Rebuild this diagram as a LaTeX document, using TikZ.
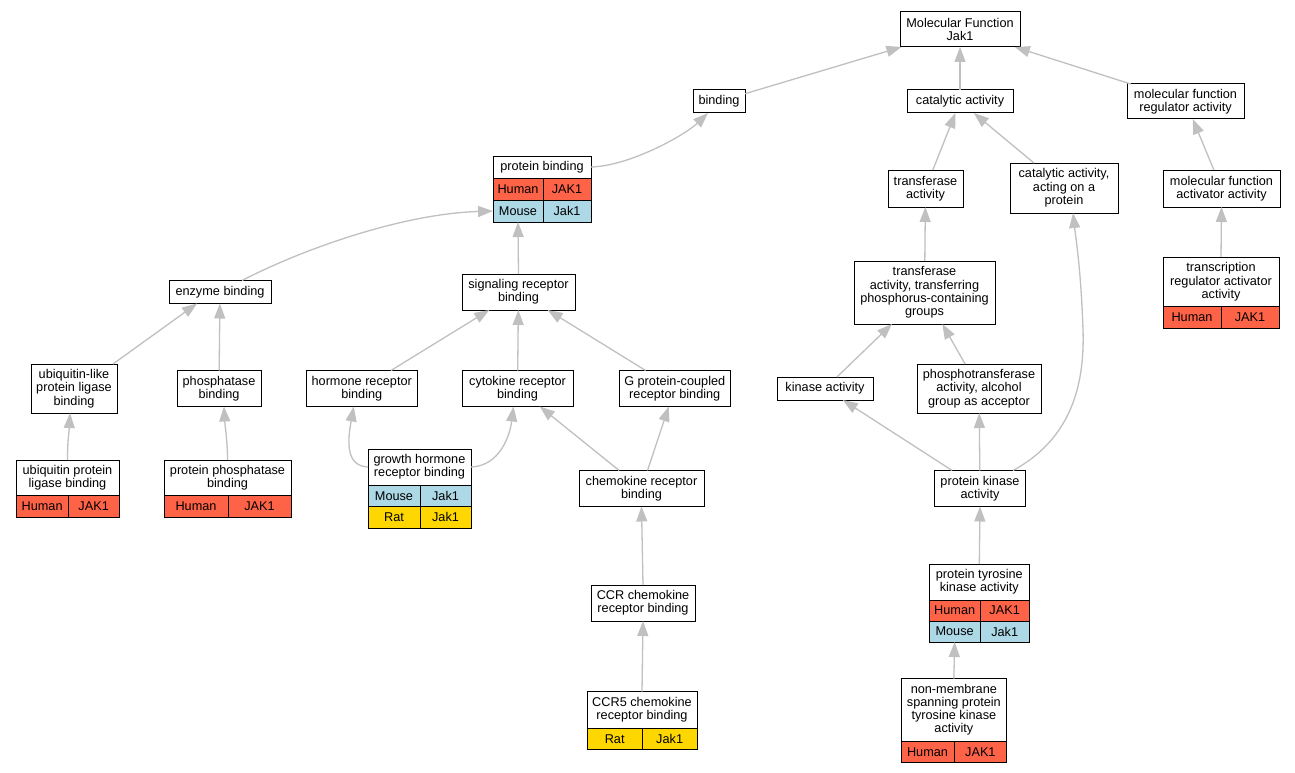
\documentclass[tikz,border=0pt]{standalone}
\usepackage{fontspec}
\setmainfont{Liberation Sans}
\usetikzlibrary{arrows.meta,fit}
\definecolor{tomatoC}{HTML}{FF6347}
\definecolor{lblueC}{HTML}{ADD8E6}
\definecolor{goldC}{HTML}{FFD700}
\definecolor{edgeC}{HTML}{C0C0C0}
\newcommand\nodefont{\fontsize{12.7}{13.3}\selectfont}
\tikzset{
  box/.style={draw=black, line width=1pt, fill=white, inner sep=0pt, outer sep=0pt, align=center, font=\nodefont},
  hum/.style={box, fill=tomatoC},
  mou/.style={box, fill=lblueC},
  rat/.style={box, fill=goldC},
  whole/.style={inner sep=0pt, outer sep=0pt},
  edge/.style={draw=edgeC, line width=1.3pt, -{Triangle[length=15pt,width=11pt]}},
}
\begin{document}
\begin{tikzpicture}[x=1pt,y=-1pt]
\fill[white] (0,0) rectangle (1295,773);
\useasboundingbox (0,0) rectangle (1295,773);

% plain nodes
\node[box, minimum width=120, minimum height=35] (mf) at (960,29.5) {Molecular Function\\Jak1};
\node[box, minimum width=52, minimum height=23] (binding) at (719,101.5) {binding};
\node[box, minimum width=106, minimum height=23] (cat) at (960,101.5) {catalytic activity};
\node[box, minimum width=117, minimum height=35] (mfr) at (1185.5,101.5) {molecular function\\regulator activity};
\node[box, minimum width=75, minimum height=37] (tr) at (925.5,188.5) {transferase\\activity};
\node[box, minimum width=108, minimum height=50] (caa) at (1064,188) {catalytic activity,\\acting on a\\protein};
\node[box, minimum width=117, minimum height=37] (act) at (1221.5,188.5) {molecular function\\activator activity};
\node[box, minimum width=102, minimum height=23] (enz) at (220,292) {enzyme binding};
\node[box, minimum width=113, minimum height=36] (sig) at (518.5,292) {signaling receptor\\binding};
\node[box, minimum width=141, minimum height=63] (tp) at (924.5,292.5) {transferase\\activity, transferring\\phosphorus-containing\\groups};
\node[box, minimum width=86, minimum height=49] (ul) at (74,388.5) {ubiquitin-like\\protein ligase\\binding};
\node[box, minimum width=84, minimum height=36] (ph) at (219,388.5) {phosphatase\\binding};
\node[box, minimum width=111.5, minimum height=36] (hr) at (361.75,388.5) {hormone receptor\\binding};
\node[box, minimum width=111, minimum height=36] (cyt) at (517.5,388.5) {cytokine receptor\\binding};
\node[box, minimum width=111.5, minimum height=36] (gp) at (674.75,388.5) {G protein-coupled\\receptor binding};
\node[box, minimum width=96, minimum height=23] (kin) at (825,388.5) {kinase activity};
\node[box, minimum width=124, minimum height=49] (pt) at (979,388.5) {phosphotransferase\\activity, alcohol\\group as acceptor};
\node[box, minimum width=125, minimum height=36] (chem) at (641.5,488.5) {chemokine receptor\\binding};
\node[box, minimum width=91, minimum height=36] (pk) at (980,488.5) {protein kinase\\activity};
\node[box, minimum width=104, minimum height=36] (ccr) at (643,603) {CCR chemokine\\receptor binding};

% protein binding
\node[box, minimum width=98, minimum height=22] (pbt) at (542,167) {protein binding};
\node[hum, minimum width=50, minimum height=22] (pbh1) at (518,189) {Human};
\node[hum, minimum width=48, minimum height=22] (pbh2) at (567,189) {JAK1};
\node[mou, minimum width=50, minimum height=22] (pbm1) at (518,211) {Mouse};
\node[mou, minimum width=48, minimum height=22] (pbm2) at (567,211) {Jak1};
\node[whole, fit=(pbt)(pbm1)(pbm2)] (pb) {};

% transcription regulator activator activity
\node[box, minimum width=116, minimum height=49.5] (tct) at (1221,281.75) {transcription\\regulator activator\\activity};
\node[hum, minimum width=58, minimum height=21.5] (tch1) at (1192,317.25) {Human};
\node[hum, minimum width=58, minimum height=21.5] (tch2) at (1250,317.25) {JAK1};
\node[whole, fit=(tct)(tch1)(tch2)] (tc) {};

% ubiquitin protein ligase binding
\node[box, minimum width=103, minimum height=35.5] (uplt) at (67.5,477.75) {ubiquitin protein\\ligase binding};
\node[hum, minimum width=52.3, minimum height=21.5] (uplh1) at (42.15,506.25) {Human};
\node[hum, minimum width=50.7, minimum height=21.5] (uplh2) at (93.65,506.25) {JAK1};
\node[whole, fit=(uplt)(uplh1)(uplh2)] (upl) {};

% protein phosphatase binding
\node[box, minimum width=127, minimum height=35.5] (ppbt) at (227.5,477.75) {protein phosphatase\\binding};
\node[hum, minimum width=64, minimum height=21.5] (ppbh1) at (196,506.25) {Human};
\node[hum, minimum width=63, minimum height=21.5] (ppbh2) at (259.5,506.25) {JAK1};
\node[whole, fit=(ppbt)(ppbh1)(ppbh2)] (ppb) {};

% growth hormone receptor binding
\node[box, minimum width=103, minimum height=36] (ght) at (419.5,467) {growth hormone\\receptor binding};
\node[mou, minimum width=52, minimum height=21.5] (ghm1) at (394,495.75) {Mouse};
\node[mou, minimum width=51, minimum height=21.5] (ghm2) at (445.5,495.75) {Jak1};
\node[rat, minimum width=52, minimum height=21.5] (ghr1) at (394,517.25) {Rat};
\node[rat, minimum width=51, minimum height=21.5] (ghr2) at (445.5,517.25) {Jak1};
\node[whole, fit=(ght)(ghr1)(ghr2)] (gh) {};

% protein tyrosine kinase activity
\node[box, minimum width=100, minimum height=36] (ptkt) at (979.3,582) {protein tyrosine\\kinase activity};
\node[hum, minimum width=50.7, minimum height=21] (ptkh1) at (954.65,610.5) {Human};
\node[hum, minimum width=49.3, minimum height=21] (ptkh2) at (1004.65,610.5) {JAK1};
\node[mou, minimum width=50.7, minimum height=21] (ptkm1) at (954.65,631.5) {Mouse};
\node[mou, minimum width=49.3, minimum height=21] (ptkm2) at (1004.65,631.5) {Jak1};
\node[whole, fit=(ptkt)(ptkm1)(ptkm2)] (ptk) {};

% CCR5 chemokine receptor binding
\node[box, minimum width=110, minimum height=36.5] (ccr5t) at (642,709.75) {CCR5 chemokine\\receptor binding};
\node[rat, minimum width=55.3, minimum height=21.5] (ccr5r1) at (614.65,738.75) {Rat};
\node[rat, minimum width=54.7, minimum height=21.5] (ccr5r2) at (669.65,738.75) {Jak1};
\node[whole, fit=(ccr5t)(ccr5r1)(ccr5r2)] (ccr5) {};

% non-membrane spanning protein tyrosine kinase activity
\node[box, minimum width=105.7, minimum height=62.5] (nmt) at (953.85,709.75) {non-membrane\\spanning protein\\tyrosine kinase\\activity};
\node[hum, minimum width=53, minimum height=21.5] (nmh1) at (927.5,751.75) {Human};
\node[hum, minimum width=52.7, minimum height=21.5] (nmh2) at (980.35,751.75) {JAK1};
\node[whole, fit=(nmt)(nmh1)(nmh2)] (nm) {};

\coordinate (pkbend) at (1083,330);

% edges
\draw[edge] (binding) -- (mf);
\draw[edge] (cat) -- (mf);
\draw[edge] (mfr) -- (mf);
\draw[edge] (pbt.east) .. controls +(39,-1) and +(-23,22) .. ([xshift=-11pt]binding.south);
\draw[edge] (tr) -- (cat);
\draw[edge] (caa) -- (cat);
\draw[edge] (act) -- (mfr);
\draw[edge] ([xshift=22pt]enz.north) .. controls +(58,-30) and +(-93,3) .. (pbm1.west);
\draw[edge] (sig.north) -- (pbm1.south);
\draw[edge] (tp) -- (tr);
\draw[edge] (tc.north) -- (act.south);
\draw[edge] ([xshift=39pt]ul.north) -- ([xshift=-23pt]enz.south);
\draw[edge] (ph) -- (enz);
\draw[edge] (hr) -- (sig);
\draw[edge] (cyt) -- (sig);
\draw[edge] (gp) -- (sig);
\draw[edge] (kin) -- (tp);
\draw[edge] (pt) -- (tp);
\draw[edge] (upl.north) .. controls +(0,-20) and +(-1,20) .. ([xshift=-4pt]ul.south);
\draw[edge] (ppb.north) .. controls +(0,-20) and +(1,20) .. ([xshift=5pt]ph.south);
\draw[edge] (ght.west) .. controls +(-23,-1) and +(-6,33.5) .. ([xshift=-8pt]hr.south);
\draw[edge] (ght.east) .. controls +(29,-1) and +(-3.5,28.5) .. ([xshift=-4pt]cyt.south);
\draw[edge] (chem) -- (cyt);
\draw[edge] (chem) -- (gp);
\draw[edge] (pk) -- (kin);
\draw[edge] (pk) -- (pt);
\draw[edge] ([xshift=33pt]pk.north) .. controls +(55,-30) and +(2,60) .. (pkbend) .. controls +(-2,-60) and +(3,27) .. ([xshift=9pt]caa.south);
\draw[edge] (ccr.north) -- (chem.south);
\draw[edge] (ptk.north) -- (pk.south);
\draw[edge] (ccr5.north) -- (ccr.south);
\draw[edge] (nm.north) -- (ptkm1.south);
\end{tikzpicture}
\end{document}
